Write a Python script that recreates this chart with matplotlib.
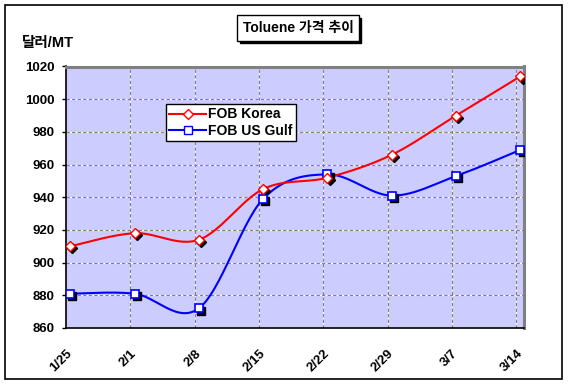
import numpy as np
import matplotlib
matplotlib.use("Agg")
import matplotlib.pyplot as plt
import matplotlib.transforms as mtransforms
from matplotlib.patches import Rectangle
from matplotlib.lines import Line2D

plt.rcParams['font.family'] = ['Liberation Sans', 'Noto Sans CJK KR', 'DejaVu Sans']

# ---- data ----
dates = ["1/25", "2/1", "2/8", "2/15", "2/22", "2/29", "3/7", "3/14"]
fob_korea = [910, 918, 914, 945, 952, 966, 990, 1014]
fob_usgulf = [881, 881, 872, 939, 954, 941, 953, 969]
title = "Toluene 가격 추이"
ylabel = "달러/MT"
series_names = ["FOB Korea", "FOB US Gulf"]
yticks = [860, 880, 900, 920, 940, 960, 980, 1000, 1020]

W, H = 569, 384
fig = plt.figure(figsize=(W / 100, H / 100), dpi=100)
ax = fig.add_axes([66 / W, 1 - 328 / H, (524 - 66) / W, (328 - 66.5) / H])
ax.set_facecolor('#CCCCFF')

x = np.arange(len(dates), dtype=float)
off = 0.065  # data points sit slightly right of the date gridlines


def smooth(xs, ys, n=30):
    P = np.column_stack([xs, ys])
    P = np.vstack([P[0], P, P[-1]])
    out = []
    for i in range(1, len(P) - 2):
        p0, p1, p2, p3 = P[i - 1], P[i], P[i + 1], P[i + 2]
        c1 = p1 + (p2 - p0) / 6.0
        c2 = p2 - (p3 - p1) / 6.0
        t = np.linspace(0, 1, n)[:, None]
        b = ((1 - t) ** 3) * p1 + 3 * ((1 - t) ** 2) * t * c1 + 3 * (1 - t) * t ** 2 * c2 + t ** 3 * p2
        out.append(b if i == 1 else b[1:])
    out = np.vstack(out)
    return out[:, 0], out[:, 1]


ax.set_xlim(0, 7.12)
ax.set_ylim(860, 1020)
ax.set_yticks(yticks)
ax.set_xticks(x)

# gridlines: white underneath, gray dashes on top
for yv in yticks[1:-1]:
    ax.axhline(yv, color='white', lw=0.8, zorder=1)
    ax.axhline(yv, color='#808080', lw=0.8, ls=(0, (3, 2)), zorder=1.1)
for xv in x[1:]:
    ax.axvline(xv, color='white', lw=0.8, zorder=1)
    ax.axvline(xv, color='#808080', lw=0.8, ls=(0, (3, 2)), zorder=1.1)

shadow = mtransforms.offset_copy(ax.transData, fig=fig, x=2.2, y=-2.2, units='dots')

# FOB US Gulf
sx, sy = smooth(x + off, fob_usgulf)
ax.plot(sx, sy, color='#0000FF', lw=1.5, zorder=3)
ax.plot(x + off, fob_usgulf, ls='none', marker='s', ms=5.5, mfc='black', mec='black',
        transform=shadow, zorder=4)
ax.plot(x + off, fob_usgulf, ls='none', marker='s', ms=5.5, mfc='white', mec='#0000FF',
        mew=1.2, zorder=5)

# FOB Korea
sx, sy = smooth(x + off, fob_korea)
ax.plot(sx, sy, color='#FF0000', lw=1.5, zorder=3)
ax.plot(x + off, fob_korea, ls='none', marker='D', ms=5.5, mfc='black', mec='black',
        transform=shadow, zorder=4)
ax.plot(x + off, fob_korea, ls='none', marker='D', ms=5.5, mfc='white', mec='#FF0000',
        mew=1.0, zorder=5)

ax.set_xticklabels(dates, rotation=45, ha='right', rotation_mode='anchor',
                   fontsize=9.5, fontweight='bold')
shift = mtransforms.ScaledTranslation(-4 / 100, 0, fig.dpi_scale_trans)
for lbl in ax.get_xticklabels():
    lbl.set_transform(lbl.get_transform() + shift)
for lbl in ax.get_yticklabels():
    lbl.set_fontsize(9.5)
    lbl.set_fontweight('bold')
ax.tick_params(axis='x', length=0, pad=14)
ax.tick_params(axis='y', length=3, width=1, pad=5)

for s in ['top', 'right']:
    ax.spines[s].set_color('#808080')
    ax.spines[s].set_linewidth(2.2)
for s in ['left', 'bottom']:
    ax.spines[s].set_color('black')
    ax.spines[s].set_linewidth(1.2)

# legend
handles = [
    Line2D([], [], color='#FF0000', lw=1.5, marker='D', ms=5.5, mfc='white', mec='#FF0000'),
    Line2D([], [], color='#0000FF', lw=1.5, marker='s', ms=5.5, mfc='white', mec='#0000FF'),
]
leg = ax.legend(handles, series_names, loc='upper left',
                bbox_to_anchor=((166 - 66) / (524 - 66), 1 - (104 - 66.5) / (328 - 66.5)),
                frameon=True, fancybox=False, framealpha=1, edgecolor='black',
                prop={'size': 10, 'weight': 'bold'}, handlelength=2.6, handletextpad=0.2,
                borderpad=0.25, labelspacing=0.15, borderaxespad=0)
leg.get_frame().set_linewidth(1.0)
leg.set_zorder(10)

# title box with shadow
tx, ty = 298 / W, 1 - 28 / H
t = fig.text(tx, ty, title, ha='center', va='center', fontsize=10, fontweight='bold',
             bbox=dict(boxstyle='square,pad=0.4', fc='white', ec='black', lw=1), zorder=3)
fig.canvas.draw()
bb = t.get_bbox_patch().get_window_extent()
fig.patches.append(Rectangle((bb.x0 + 2.5, bb.y0 - 2.5), bb.width, bb.height,
                             transform=None, fc='black', ec='black', zorder=1))

fig.text(22 / W, 1 - 43 / H, ylabel, ha='left', va='center', fontsize=10.5, fontweight='bold')

# outer border
fig.patches.append(Rectangle((4.5 / W, 1 - 379 / H), (562 - 4.5) / W, (379 - 5) / H,
                             transform=fig.transFigure, fill=False, ec='black', lw=1.2))

fig.savefig('out.png', dpi=100)
